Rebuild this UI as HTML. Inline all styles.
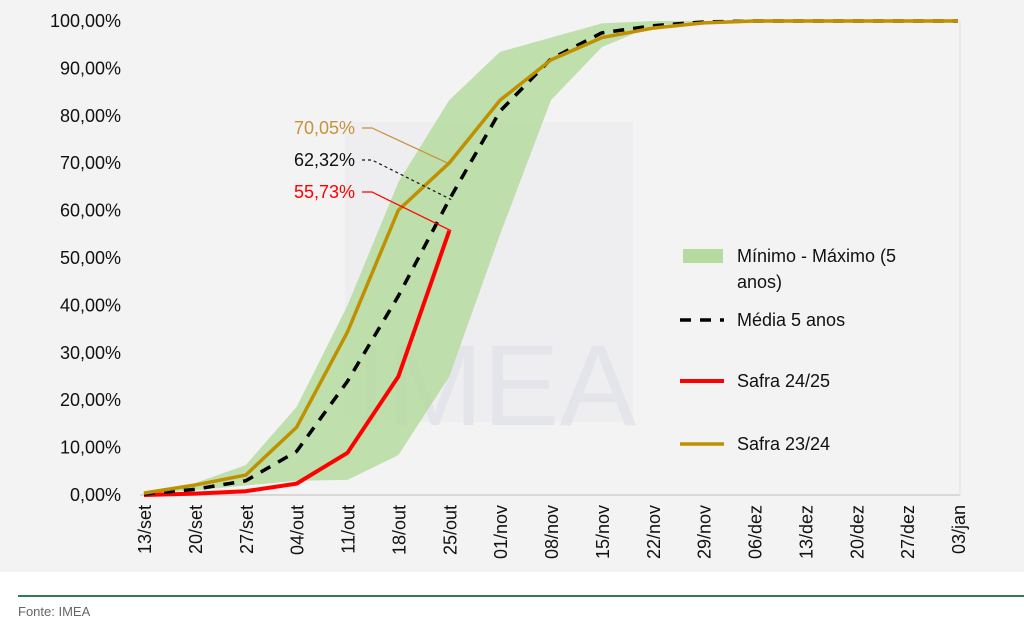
<!DOCTYPE html>
<html><head><meta charset="utf-8"><style>
body{margin:0;width:1024px;height:636px;background:#fff;font-family:"Liberation Sans",sans-serif;overflow:hidden}
#bg{position:absolute;left:0;top:0;width:1024px;height:572px;background:#f3f3f3}
</style></head><body>
<div id="bg"></div>
<svg id="chart" width="1024" height="636" style="position:absolute;left:0;top:0"></svg>
<script>
const categories=["13/set","20/set","27/set","04/out","11/out","18/out","25/out","01/nov","08/nov","15/nov","22/nov","29/nov","06/dez","13/dez","20/dez","27/dez","03/jan"];
const minVals=[0.3,1.0,2.0,3.0,3.2,8.4,25,55,83.3,94.5,99,100,100,100,100,100,100];
const maxVals=[0.8,2.5,6.3,18.6,40,66,83.3,93.5,96.5,99.5,100,100,100,100,100,100,100];
const media=[0.2,1.2,3.0,9.2,24,42,62.32,81,92,97.5,99,99.8,100,100,100,100,100];
const safra2425=[0.0,0.3,0.8,2.4,8.9,25,55.73];
const safra2324=[0.4,2.1,4.2,14.3,34.4,60.1,70.05,83.3,91.8,96.5,98.5,99.6,100,100,100,100,100];
const yTicks=[0,10,20,30,40,50,60,70,80,90,100];
const NS="http://www.w3.org/2000/svg";
const svg=document.getElementById('chart');
const x=i=>144+i*(958-144)/(categories.length-1);
const y=v=>495-v*4.74;
function mk(t,a,p){const e=document.createElementNS(NS,t);for(const k in a)e.setAttribute(k,a[k]);(p||svg).appendChild(e);return e;}
const wm=mk('g',{});


mk('rect',{x:345,y:122,width:288,height:300,fill:'#e8e9ee',opacity:0.45},wm);
const wt=mk('text',{x:355,y:425,'font-size':115,fill:'#e4e5ea','font-family':'Liberation Sans'},wm);wt.textContent='IMEA';
yTicks.forEach(v=>{const t=mk('text',{x:121,y:y(v)+6,'text-anchor':'end','font-size':18,fill:'#111'});


t.textContent=v.toFixed(2).replace('.',',')+'%';});
let pts=categories.map((c,i)=>x(i)+','+y(maxVals[i])).concat(categories.map((c,i)=>x(i)+','+y(minVals[i])).reverse());
const band=mk('polygon',{points:pts.join(' '),fill:'#b5dba0',opacity:0.85});


const base=mk('line',{x1:140,x2:960,y1:495,y2:495,stroke:'#d0d0d0','stroke-width':1.5});


const rl=mk('line',{x1:960,x2:960,y1:20,y2:495,stroke:'#e0e0e0','stroke-width':1});


function line(vals,col,w,dash,name){const l=mk('polyline',{points:vals.map((v,i)=>x(i)+','+y(v)).join(' '),fill:'none',stroke:col,'stroke-width':w,'stroke-linejoin':'round'});
if(dash)l.setAttribute('stroke-dasharray',dash);

}
line(safra2425,'#ff0000',4,null,'safra-24-25-line');
line(media,'#000',3.5,'11 9','media-5-anos-line');
line(safra2324,'#bf9000',3.5,null,'safra-23-24-line');
categories.forEach((c,i)=>{const t=mk('text',{transform:`translate(${x(i)+7},505) rotate(-90)`,'text-anchor':'end','font-size':18,fill:'#111'});


t.textContent=c;});
function ann(txt,col,ty,ex,ey,dash,name){const t=mk('text',{x:355,y:ty+6,'text-anchor':'end','font-size':18,fill:col});


t.textContent=txt;
const l=mk('polyline',{points:`362,${ty} 372,${ty} ${ex},${ey}`,fill:'none',stroke:col,'stroke-width':1.2});
if(dash)l.setAttribute('stroke-dasharray','3 3');

}
ann('70,05%','#c8913a',128,x(6)-2,y(safra2324[6]),null,'label-safra-23-24');
ann('62,32%','#111',160,x(6)+2,y(media[6]),true,'label-media');
ann('55,73%','#ff0000',192,x(6)+2,y(safra2425[6]),null,'label-safra-24-25');
const lg=mk('g',{});


mk('rect',{x:683,y:249,width:40,height:14,fill:'#b5dba0'},lg);
function lt(tx,ty,s){const t=mk('text',{x:tx,y:ty,'font-size':18,fill:'#111'},lg);t.textContent=s;}
lt(737,262,'Mínimo - Máximo (5');lt(737,288,'anos)');
mk('line',{x1:680,x2:724,y1:320,y2:320,stroke:'#000','stroke-width':3.5,'stroke-dasharray':'11 9'},lg);
lt(737,326,'Média 5 anos');
mk('line',{x1:680,x2:724,y1:381,y2:381,stroke:'#ff0000','stroke-width':4},lg);
lt(737,387,'Safra 24/25');
mk('line',{x1:680,x2:724,y1:444,y2:444,stroke:'#bf9000','stroke-width':3.5},lg);
lt(737,450,'Safra 23/24');
</script>
<div style="position:absolute;left:18px;top:595px;width:1006px;height:2px;background:#2e7d4f"></div>
<div style="position:absolute;left:18px;top:604px;font-size:13px;color:#666">Fonte: IMEA</div>
</body></html>
